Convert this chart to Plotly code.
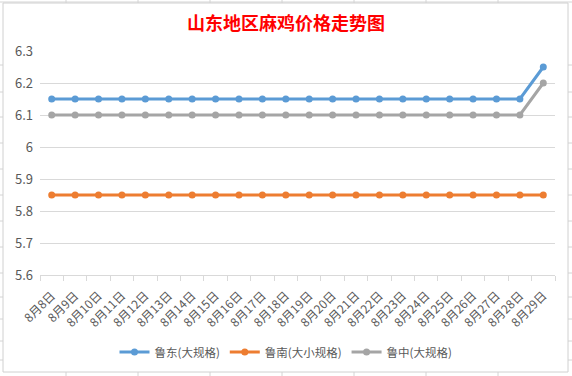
import plotly.graph_objects as go

days = list(range(8, 30))
categories = [f"8月{d}日" for d in days]
ludong = [6.15] * 21 + [6.25]
lunan = [5.85] * 22
luzhong = [6.1] * 21 + [6.2]

series = [
    ("鲁东(大规格)", ludong, "#5B9BD5"),
    ("鲁南(大小规格)", lunan, "#ED7D31"),
    ("鲁中(大规格)", luzhong, "#A5A5A5"),
]

fig = go.Figure()
for name, vals, color in series:
    fig.add_trace(go.Scatter(
        x=categories, y=vals, name=name, mode="lines+markers",
        line=dict(color=color, width=3),
        marker=dict(color=color, size=7),
    ))

W, H = 572, 376
L, R, T, B = 40, 17, 51, 101
pw, ph = W - L - R, H - T - B

def px(x):
    return (x - L) / pw

def py(y):
    return (H - B - y) / ph

grey = "#595959"
font = "Noto Sans CJK SC, sans-serif"

shapes = []
# spreadsheet grid lines behind the chart
for x in [66, 138, 210, 282, 354, 426, 498]:
    shapes.append(dict(type="line", xref="paper", yref="paper", x0=px(x), x1=px(x),
                       y0=py(0), y1=py(H), line=dict(color="#d4d4d4", width=1), layer="below"))
for y in [2, 65, 92, 117, 143, 169, 195, 221, 247, 273, 297, 319, 341, 360]:
    shapes.append(dict(type="line", xref="paper", yref="paper", x0=px(0), x1=px(W),
                       y0=py(y), y1=py(y), line=dict(color="#d4d4d4", width=1), layer="below"))
# chart area
shapes.append(dict(type="rect", xref="paper", yref="paper", x0=px(3), x1=px(568),
                   y0=py(372), y1=py(3), line=dict(color="#d0d0d0", width=1),
                   fillcolor="white", layer="below"))

fig.update_layout(
    width=W, height=H,
    margin=dict(l=L, r=R, t=T, b=B, autoexpand=False),
    paper_bgcolor="#ffffff", plot_bgcolor="rgba(0,0,0,0)",
    font=dict(family=font, color=grey, size=12),
    title=dict(text="<b>山东地区麻鸡价格走势图</b>", x=0.5, xanchor="center",
               y=1 - 24 / H, yanchor="middle",
               font=dict(color="#FF0000", size=18, family=font)),
    xaxis=dict(type="category", tickangle=-45, showgrid=False, automargin=False,
               showline=True, linecolor="#d9d9d9", linewidth=1,
               ticks="outside", tickson="boundaries", ticklen=5, tickcolor="#d9d9d9",
               tickfont=dict(size=12, color=grey), range=[-0.5, 21.5],
               ticklabelstandoff=8),
    yaxis=dict(range=[5.6, 6.3], dtick=0.1, tick0=5.6, showgrid=True, automargin=False,
               gridcolor="#d9d9d9", gridwidth=1, zeroline=False, showline=False,
               tickfont=dict(size=13, color=grey), ticks="", ticklabelstandoff=6),
    legend=dict(orientation="h", x=0.5, xanchor="center", xref="container",
                y=1 - 352 / H, yanchor="middle", yref="container",
                font=dict(size=11.5, color=grey), bgcolor="rgba(0,0,0,0)",
                itemwidth=30, tracegroupgap=0),
    shapes=shapes,
)

fig.write_html("out.html", config={"displayModeBar": False},
               post_script="document.body.style.margin='0';document.body.style.overflow='hidden';")
